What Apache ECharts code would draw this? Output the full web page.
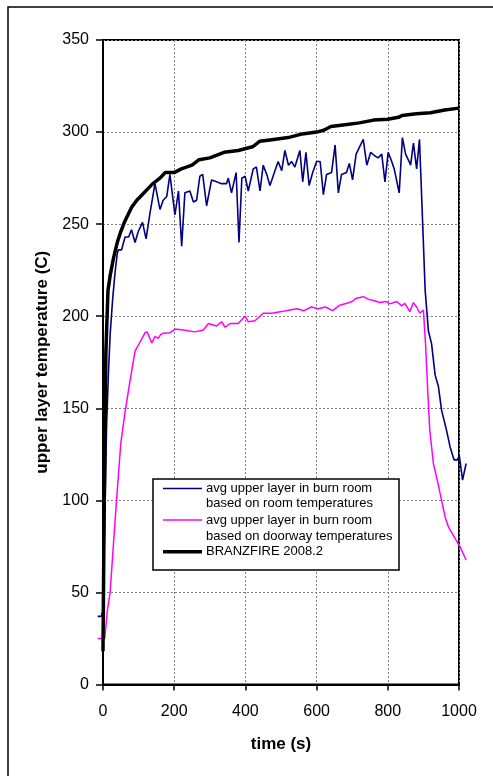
<!DOCTYPE html>
<html>
<head>
<meta charset="utf-8">
<script src="https://cdn.jsdelivr.net/npm/echarts@6/dist/echarts.min.js"></script>
<style>
html,body{margin:0;padding:0;background:#fff;}
#chart{width:493px;height:776px;}
</style>
</head>
<body>
<div id="chart"></div>
<script>
// time (s), temperature (C)
var roomSeries = [[-15,37],[-5,37],[0,40],[5,90],[10,140],[15,168],[20,190],[27,209],[34,224],[40,234],[43,236],[52,236],[62,243],[72,243],[80,247],[90,240],[99,246],[111,251],[121,242],[132,256],[146,272],[160,258],[169,263],[179,265],[188,277],[202,255],[212,268],[221,238],[230,267],[244,268],[254,262],[263,263],[272,276],[280,277],[291,260],[305,274],[319,273],[333,272],[347,272],[352,275],[361,267],[374,278],[382,240],[390,275],[399,276],[408,268],[422,280],[431,281],[441,268],[450,282],[460,277],[469,271],[474,271],[483,279],[492,284],[502,279],[511,290],[521,282],[530,284],[539,281],[553,290],[561,273],[570,289],[579,271],[589,278],[600,284],[610,284],[619,266],[628,277],[642,278],[652,293],[661,267],[670,277],[684,278],[692,283],[701,274],[711,288],[731,296],[741,282],[752,289],[764,287],[773,286],[783,288],[792,273],[801,289],[811,284],[818,280],[823,281],[832,267],[841,297],[850,288],[860,284],[864,282],[872,294],[881,280],[889,296],[898,250],[905,214],[914,192],[923,185],[933,168],[942,162],[951,149],[965,138],[975,129],[986,122],[995,122],[1001,124],[1010,111],[1020,120]];

var doorwaySeries = [[-15,25],[-10,24],[5,25],[12,40],[20,50],[30,78],[38,100],[50,131],[62,148],[76,165],[90,181],[104,186],[118,191],[124,191.5],[137,185.5],[146,189],[155,188],[162,190],[169,190.8],[188,191],[202,193],[226,192.5],[258,191.5],[282,192.5],[296,196],[319,194.7],[333,197],[343,194],[357,196],[380,196],[399,200],[408,197],[427,197.5],[450,201.6],[474,201.6],[502,202.5],[525,203.4],[545,204],[565,203],[585,205],[605,204],[625,205],[645,203],[665,206],[685,207],[700,208],[712,209.8],[731,210.6],[748,209],[760,208.5],[778,207.4],[795,208],[806,206.7],[825,208],[839,205.6],[848,207],[862,202.5],[872,207.4],[881,205],[890,201.6],[900,203.4],[906,185],[912,160],[918,138],[928,120],[940,110],[951,100],[961,91],[970,85.7],[989,79.4],[1003,74.8],[1020,67.6]];

var branzfireSeries = [[0,18],[3,90],[8,180],[14,214],[20,222],[30,232],[40,240],[50,246],[60,251],[70,255],[80,259],[95,263],[110,266],[125,269],[140,272],[160,275],[175,278],[200,278],[220,280],[250,282],[270,285],[300,286],[340,289],[380,290],[420,292],[440,295],[480,296],[520,297],[560,299],[600,300],[620,301],[640,303],[680,304],[720,305],[760,306.5],[800,307],[830,308],[840,309],[880,310],[920,310.5],[960,312],[1000,313]];

var seriesNames = ['avg upper layer in burn room\nbased on room temperatures','avg upper layer in burn room\nbased on doorway temperatures','BRANZFIRE 2008.2'];
var legendLines = ['avg upper layer in burn room','based on room temperatures','avg upper layer in burn room','based on doorway temperatures','BRANZFIRE 2008.2'];
var xTitle = 'time (s)';
var yTitle = 'upper layer temperature (C)';

var FONT = '"Liberation Sans", Arial, sans-serif';
var chart = echarts.init(document.getElementById('chart'), null, {renderer:'canvas'});

// plot area geometry (visible axes 0..1000 over 356 px)
var gLeft = 103, gWidth = 356, gTop = 40, gBottom = 91.5, W = 493;
var pxPerSec = gWidth / 1000;
// wider hidden coordinate system so data before 0 s and after 1000 s is drawn, same scale
var dMin = -20, dMax = 1040;
var dLeft = gLeft + dMin * pxPerSec;
var dRight = W - (gLeft + dMax * pxPerSec);

var legendX = 153, legendY = 479;
var legendRows = [488.5, 503.5, 520, 536, 551.7];
var graphics = [
  {type:'rect', shape:{x:8, y:7, width:520, height:820}, style:{fill:'none', stroke:'#000', lineWidth:1.5}, z:0, silent:true},
  {type:'rect', shape:{x:legendX, y:legendY, width:246, height:91}, style:{fill:'#fff', stroke:'#000', lineWidth:1.5}, z:10},
  {type:'line', shape:{x1:163, y1:legendRows[0], x2:202, y2:legendRows[0]}, style:{stroke:'#000080', lineWidth:1.6}, z:11},
  {type:'line', shape:{x1:163, y1:legendRows[2], x2:202, y2:legendRows[2]}, style:{stroke:'#FF00FF', lineWidth:1.5}, z:11},
  {type:'line', shape:{x1:163, y1:legendRows[4], x2:202, y2:legendRows[4]}, style:{stroke:'#000', lineWidth:3.5}, z:11}
];
legendLines.forEach(function(t,i){
  graphics.push({type:'text', x:206, y:legendRows[i], style:{text:t, font:'13px ' + FONT, fill:'#000', verticalAlign:'middle', align:'left'}, z:11});
});

chart.setOption({
  animation:false,
  backgroundColor:'#fff',
  grid:[
    {left:gLeft, top:gTop, right:W - gLeft - gWidth, bottom:gBottom, show:true, borderColor:'#000', borderWidth:2, backgroundColor:'transparent'},
    {left:dLeft, top:gTop, right:dRight, bottom:gBottom, show:false}
  ],
  xAxis:[{
    type:'value', gridIndex:0, min:0, max:1000, interval:200,
    name:xTitle, nameLocation:'middle', nameGap:51,
    nameTextStyle:{fontFamily:FONT, fontSize:17, fontWeight:'bold', color:'#000'},
    axisLine:{show:true, onZero:false, lineStyle:{color:'#000', width:2}},
    axisTick:{show:true, inside:false, length:6, lineStyle:{color:'#000', width:1.5}},
    axisLabel:{fontFamily:FONT, fontSize:16, color:'#000', margin:19, formatter:function(v){return String(v);}},
    splitLine:{show:true, lineStyle:{color:'#808080', width:1, type:[2,2]}}
  },{
    type:'value', gridIndex:1, min:dMin, max:dMax, show:false, splitLine:{show:false}
  }],
  yAxis:[{
    type:'value', gridIndex:0, min:0, max:350, interval:50,
    name:yTitle, nameLocation:'middle', nameGap:52, nameRotate:90,
    nameTextStyle:{fontFamily:FONT, fontSize:17, fontWeight:'bold', color:'#000'},
    axisLine:{show:true, onZero:false, lineStyle:{color:'#000', width:2}},
    axisTick:{show:true, inside:false, length:7, lineStyle:{color:'#000', width:1.5}},
    axisLabel:{fontFamily:FONT, fontSize:16, color:'#000', margin:14},
    splitLine:{show:true, lineStyle:{color:'#808080', width:1, type:[2,2]}}
  },{
    type:'value', gridIndex:1, min:0, max:350, show:false, splitLine:{show:false}
  }],
  series:[
    {name:seriesNames[0], type:'line', xAxisIndex:1, yAxisIndex:1, data:roomSeries, showSymbol:false, symbol:'none', clip:false, lineStyle:{color:'#000080', width:1.6}, itemStyle:{color:'#000080'}, z:3},
    {name:seriesNames[1], type:'line', xAxisIndex:1, yAxisIndex:1, data:doorwaySeries, showSymbol:false, symbol:'none', clip:false, lineStyle:{color:'#FF00FF', width:1.5}, itemStyle:{color:'#FF00FF'}, z:2},
    {name:seriesNames[2], type:'line', xAxisIndex:1, yAxisIndex:1, data:branzfireSeries, showSymbol:false, symbol:'none', clip:false, lineStyle:{color:'#000', width:3.5}, itemStyle:{color:'#000'}, z:4}
  ],
  graphic:graphics
});
</script>
</body>
</html>
